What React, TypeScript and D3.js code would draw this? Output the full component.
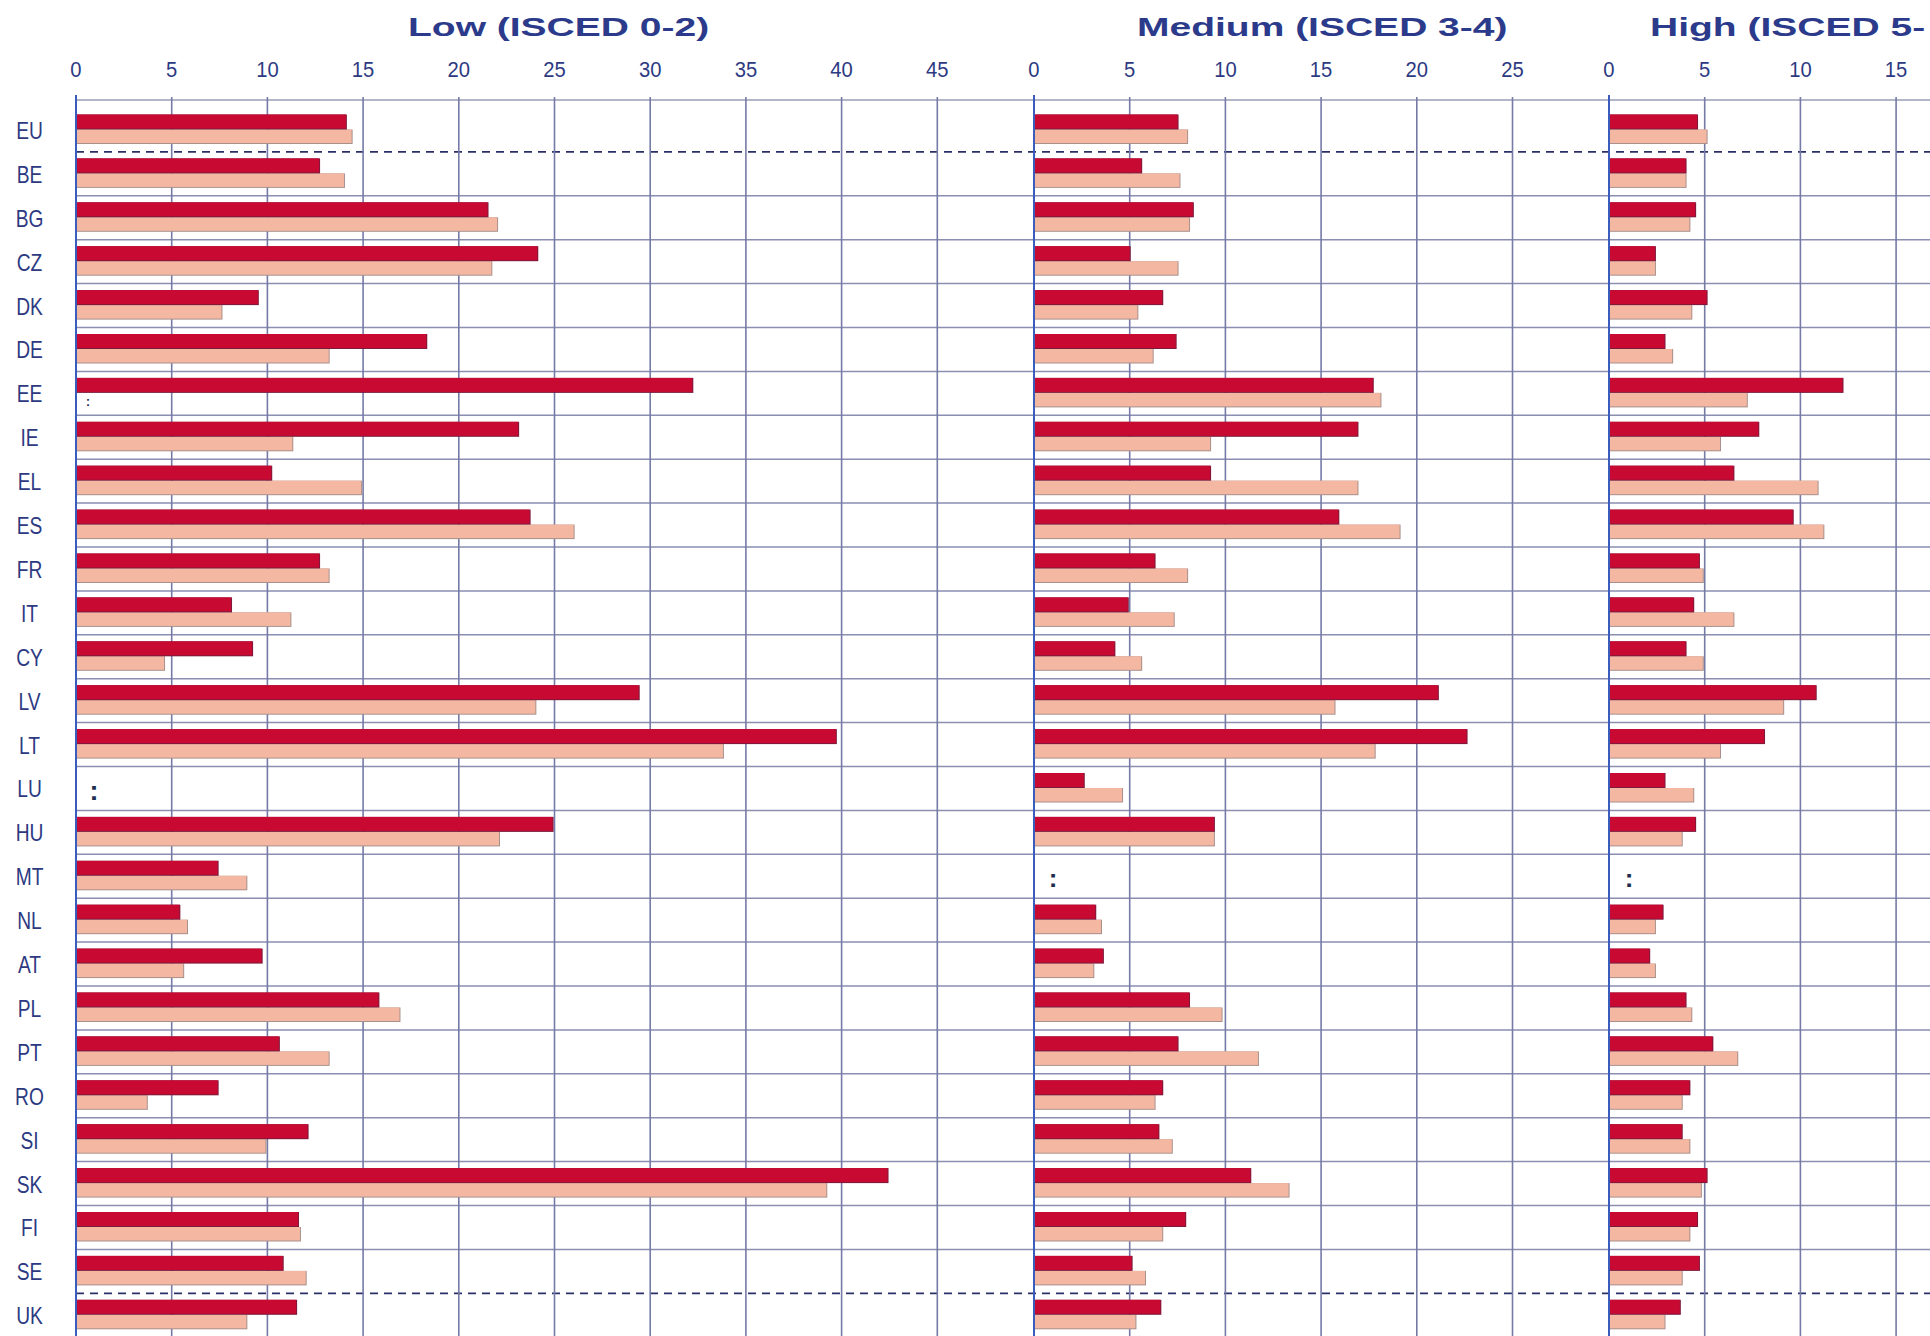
import React from "react";
import * as d3 from "d3";

const countries = ["EU","BE","BG","CZ","DK","DE","EE","IE","EL","ES","FR","IT","CY","LV","LT","LU","HU","MT","NL","AT","PL","PT","RO","SI","SK","FI","SE","UK"];

const lowRed: (number | null)[] = [14.1,12.7,21.5,24.1,9.5,18.3,32.2,23.1,10.2,23.7,12.7,8.1,9.2,29.4,39.7,null,24.9,7.4,5.4,9.7,15.8,10.6,7.4,12.1,42.4,11.6,10.8,11.5];
const lowPink: (number | null)[] = [14.4,14.0,22.0,21.7,7.6,13.2,null,11.3,14.9,26.0,13.2,11.2,4.6,24.0,33.8,null,22.1,8.9,5.8,5.6,16.9,13.2,3.7,9.9,39.2,11.7,12.0,8.9];

const medRed: (number | null)[] = [7.5,5.6,8.3,5.0,6.7,7.4,17.7,16.9,9.2,15.9,6.3,4.9,4.2,21.1,22.6,2.6,9.4,null,3.2,3.6,8.1,7.5,6.7,6.5,11.3,7.9,5.1,6.6];
const medPink: (number | null)[] = [8.0,7.6,8.1,7.5,5.4,6.2,18.1,9.2,16.9,19.1,8.0,7.3,5.6,15.7,17.8,4.6,9.4,null,3.5,3.1,9.8,11.7,6.3,7.2,13.3,6.7,5.8,5.3];

const highRed: (number | null)[] = [4.6,4.0,4.5,2.4,5.1,2.9,12.2,7.8,6.5,9.6,4.7,4.4,4.0,10.8,8.1,2.9,4.5,null,2.8,2.1,4.0,5.4,4.2,3.8,5.1,4.6,4.7,3.7];
const highPink: (number | null)[] = [5.1,4.0,4.2,2.4,4.3,3.3,7.2,5.8,10.9,11.2,4.9,6.5,4.9,9.1,5.8,4.4,3.8,null,2.4,2.4,4.3,6.7,3.8,4.2,4.8,4.2,3.8,2.9];

const lowTicks = [0,5,10,15,20,25,30,35,40,45];
const medTicks = [0,5,10,15,20,25];
const highTicks = [0,5,10,15];

// the third title is cut at the right edge in the reference
const titles = ["Low (ISCED 0-2)", "Medium (ISCED 3-4)", "High (ISCED 5-"];

const W = 1930;
const H = 1336;
const PX = 19.14;
const NAVY = "#2d3a82";
const RED = "#c80a32";
const PINK = "#f4b8a2";

export default function App() {
  const y = d3.scaleBand<string>().domain(countries).range([108, 108 + 28 * 43.9]);
  const xLow = d3.scaleLinear().domain([0, 50]).range([76, 76 + 50 * PX]);
  const xMed = d3.scaleLinear().domain([0, 30]).range([1034, 1034 + 30 * PX]);
  const xHigh = d3.scaleLinear().domain([0, 17]).range([1609, 1609 + 17 * PX]);

  const panels = [
    { title: titles[0], tx: 408, x: xLow, ticks: lowTicks, red: lowRed, pink: lowPink },
    { title: titles[1], tx: 1137, x: xMed, ticks: medTicks, red: medRed, pink: medPink },
    { title: titles[2], tx: 1650, x: xHigh, ticks: highTicks, red: highRed, pink: highPink },
  ];

  const bw = y.bandwidth();
  const rowLines = d3.range(1, 28).map((i) => 108 + i * bw);

  return (
    <div style={{ position: "absolute", left: 0, top: 0, width: W, height: H, overflow: "hidden", background: "#fff" }}>
      <svg width={W} height={H} style={{ display: "block" }}>
        <rect x={0} y={0} width={W} height={H} fill="#ffffff" />
        {/* horizontal row lines */}
        <line x1={76} x2={W} y1={100} y2={100} stroke="#9a9cb6" strokeWidth={1.5} />
        {rowLines.map((ly, i) => {
          const dashed = i === 0 || i === 26;
          return (
            <line key={"h" + i} x1={76} x2={W} y1={ly} y2={ly}
              stroke={dashed ? "#2a3168" : "#8a8eb0"}
              strokeWidth={dashed ? 1.8 : 1.5}
              strokeDasharray={dashed ? "8 6" : undefined} />
          );
        })}
        {/* vertical grid */}
        {panels.map((p, pi) => (
          <g key={"v" + pi}>
            {p.ticks.filter((t) => t > 0).map((t) => (
              <line key={t} x1={p.x(t)} x2={p.x(t)} y1={97} y2={H} stroke="#767aa6" strokeWidth={1.6} />
            ))}
          </g>
        ))}
        {/* bars */}
        {panels.map((p, pi) => (
          <g key={"b" + pi}>
            {countries.map((c, i) => {
              const t = y(c)!;
              const r = p.red[i];
              const k = p.pink[i];
              return (
                <g key={c}>
                  {k != null && (
                    <g>
                      <rect x={p.x(0)} y={t + 21.5} width={p.x(k) - p.x(0) + 1} height={14.5} fill="#a9908c" />
                      <rect x={p.x(0)} y={t + 21.5} width={p.x(k) - p.x(0)} height={13.5} fill={PINK} />
                    </g>
                  )}
                  {r != null && (
                    <g>
                      <rect x={p.x(0)} y={t + 6.5} width={p.x(r) - p.x(0) + 1} height={15} fill="#7c1a3c" />
                      <rect x={p.x(0)} y={t + 6.5} width={p.x(r) - p.x(0)} height={14} fill={RED} />
                    </g>
                  )}
                </g>
              );
            })}
          </g>
        ))}
        {/* zero axes */}
        {panels.map((p, pi) => (
          <line key={"z" + pi} x1={p.x(0)} x2={p.x(0)} y1={95} y2={H} stroke="#3a5cbc" strokeWidth={2} />
        ))}
        {/* missing-value markers */}
        <text x={xLow(0) + 18} y={y("LU")! + bw / 2 + 12} fontFamily="Liberation Sans" fontWeight="bold" fontSize={27} fill="#1e2d52" textAnchor="middle">:</text>
        <text x={xMed(0) + 19} y={y("MT")! + bw / 2 + 11} fontFamily="Liberation Sans" fontWeight="bold" fontSize={26} fill="#1e2d52" textAnchor="middle">:</text>
        <text x={xHigh(0) + 20} y={y("MT")! + bw / 2 + 11} fontFamily="Liberation Sans" fontWeight="bold" fontSize={26} fill="#1e2d52" textAnchor="middle">:</text>
        <text x={xLow(0) + 12} y={y("EE")! + 34.5} fontFamily="Liberation Sans" fontWeight="bold" fontSize={12} fill="#1e2d52" textAnchor="middle">:</text>
        {/* tick labels */}
        {panels.map((p, pi) => (
          <g key={"t" + pi}>
            {p.ticks.map((t) => (
              <text key={t} transform={`translate(${p.x(t)},77) scale(0.92,1)`} textAnchor="middle" fontFamily="Liberation Sans" fontSize={22} fill={NAVY}>{t}</text>
            ))}
          </g>
        ))}
        {/* titles */}
        {panels.map((p, pi) => (
          <text key={"ti" + pi} transform={`translate(${p.tx},36) scale(1.56,1)`} fontFamily="Liberation Sans" fontWeight="bold" fontSize={25} fill="#2b3a8a">{p.title}</text>
        ))}
        {/* country labels */}
        {countries.map((c) => (
          <text key={c} transform={`translate(29.5,${y(c)! + bw / 2 + 9}) scale(0.8,1)`} textAnchor="middle" fontFamily="Liberation Sans" fontSize={24} fill={NAVY}>{c}</text>
        ))}
      </svg>
    </div>
  );
}
